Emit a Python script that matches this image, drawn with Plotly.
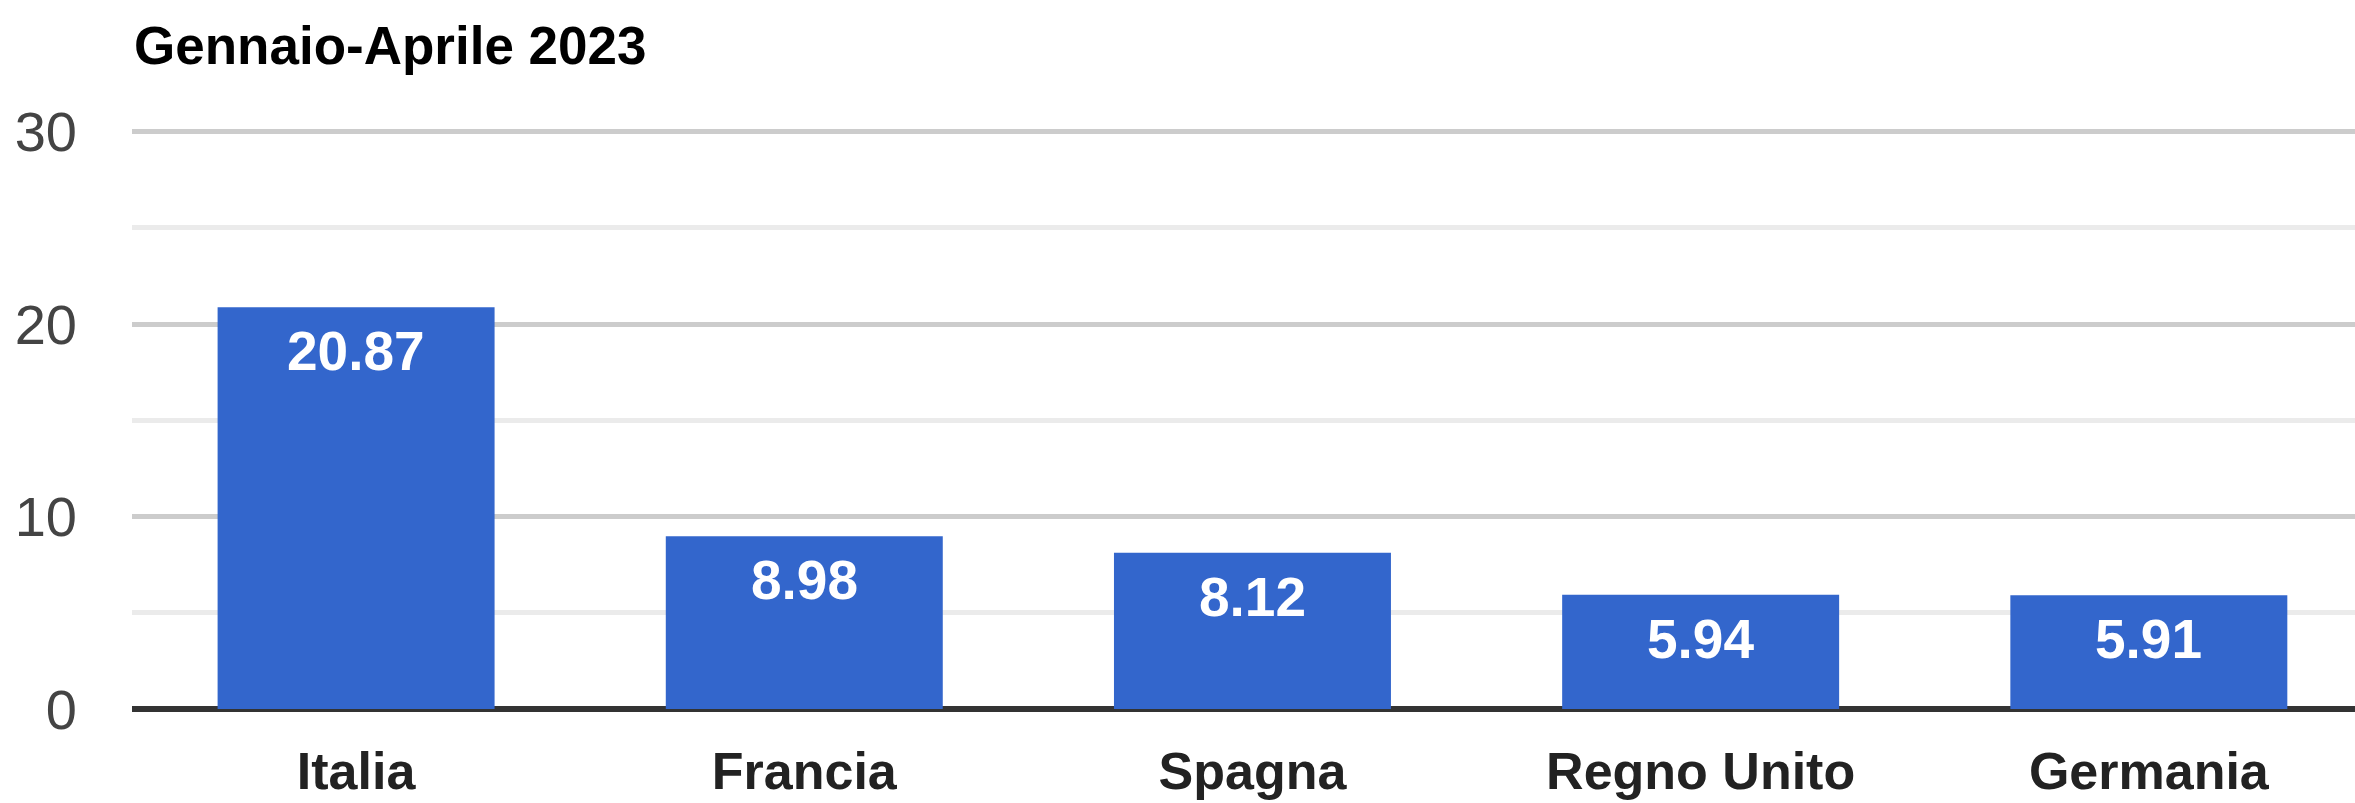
import plotly.graph_objects as go

categories = ["Italia", "Francia", "Spagna", "Regno Unito", "Germania"]
values = [20.87, 8.98, 8.12, 5.94, 5.91]
value_labels = ["20.87", "8.98", "8.12", "5.94", "5.91"]
y_ticks = [0, 10, 20, 30]
title_text = "Gennaio-Aprile 2023"

FONT = "Liberation Sans, Arial, sans-serif"

fig = go.Figure()
fig.add_trace(go.Bar(
    x=categories, y=values,
    marker=dict(color="#3366CC", line=dict(width=0)),
    width=0.618,
    hoverinfo="skip",
))

for c, v, t in zip(categories, values, value_labels):
    fig.add_annotation(
        x=c, y=v, xref="x", yref="y", text=t, showarrow=False,
        yanchor="middle", yshift=-44,
        font=dict(family=FONT, size=55, color="white", weight="bold"),
    )

fig.add_annotation(
    x=0, xref="paper", y=1.131, yref="paper", text=title_text,
    showarrow=False, xanchor="left", yanchor="middle",
    font=dict(family=FONT, size=53, color="#000000", weight="bold"),
)

fig.update_layout(
    width=2355, height=803,
    margin=dict(l=132, r=0, t=122, b=94, pad=0),
    plot_bgcolor="white", paper_bgcolor="white",
    showlegend=False,
    xaxis=dict(
        range=[-0.5, 4.46], showgrid=False, zeroline=False, showline=False,
        ticks="", ticklabelstandoff=27, automargin=False,
        tickfont=dict(family=FONT, size=52, color="#222222", weight="bold"),
    ),
    yaxis=dict(
        range=[0, 30.5], tickvals=y_ticks, automargin=False,
        showgrid=True, gridcolor="#cccccc", gridwidth=5,
        minor=dict(dtick=5, tick0=0, showgrid=True, gridcolor="#ebebeb", gridwidth=5),
        zeroline=True, zerolinecolor="#333333", zerolinewidth=6,
        showline=False, ticks="", ticklabelstandoff=54,
        tickfont=dict(family=FONT, size=56, color="#444444"),
    ),
)

fig.write_html("out.html")
